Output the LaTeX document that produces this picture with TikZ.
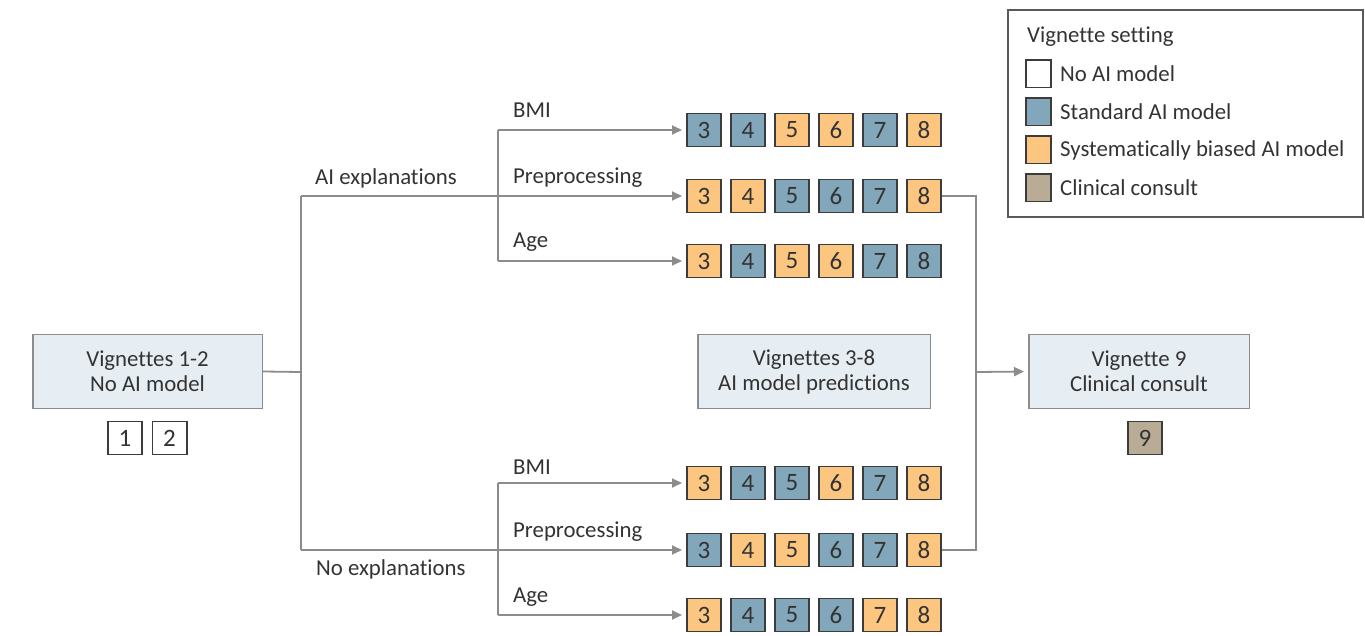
\documentclass[tikz,border=0pt]{standalone}
\usepackage{fontspec}
\setmainfont{Carlito}[Ligatures={NoCommon}]
\usepackage{tikz}
\usetikzlibrary{arrows.meta}
\usepackage{xcolor}
\definecolor{txtgrey}{HTML}{333333}
\definecolor{linegrey}{HTML}{8C8C8C}
\definecolor{boxedge}{HTML}{3C3C3C}
\definecolor{panelfill}{HTML}{E7EEF3}
\definecolor{sb}{HTML}{82A7BA}
\definecolor{so}{HTML}{FDC680}
\definecolor{st}{HTML}{B8AC96}

\begin{document}
\begin{tikzpicture}[x=1pt,y=-1pt,
    every node/.style={text=txtgrey, font=\fontsize{22.8}{25}\selectfont},
    panel/.style={draw=linegrey, line width=1.5pt, fill=panelfill, align=center, minimum height=74pt},
    vbox/.style={draw=boxedge, line width=1.8pt, minimum width=34.2pt, minimum height=33pt, inner sep=0pt, font=\fontsize{25}{25}\selectfont},
    swatch/.style={draw=boxedge, line width=1.8pt, minimum width=25.2pt, minimum height=27.2pt, inner sep=0pt},
    link/.style={draw=linegrey, line width=1.8pt},
    arr/.style={link, -{Triangle[length=10pt,width=9pt]}, shorten >=4pt},
    lbl/.style={anchor=west, inner sep=0pt}]
    \useasboundingbox (0,0) rectangle (1365,636);

    \node[panel, minimum width=229.5pt] (v12) at (147.5,371.5) {Vignettes 1-2\\No AI model};
    \node[panel, minimum width=232.5pt] (v38) at (814,371.5)   {Vignettes 3-8\\AI model predictions};
    \node[panel, minimum width=220.5pt] (v9)  at (1139,371.5)  {Vignette 9\\Clinical consult};

    \node[vbox, fill=white] (s1) at (125,438)  {1};
    \node[vbox, fill=white] (s2) at (169.5,438) {2};
    \node[vbox, fill=st]    (s9) at (1145,438) {9};

    \foreach \row/\y/\c in {a1/130/{sb,sb,so,so,sb,so}, a2/196/{so,so,sb,sb,sb,so}, a3/261/{so,sb,so,so,sb,sb},
                            b1/483/{so,sb,sb,so,sb,so}, b2/550/{sb,so,so,sb,sb,so}, b3/615/{so,sb,sb,sb,so,so}}
      \foreach \col [count=\i from 3] in \c
        \node[vbox, fill=\col] (\row-\i) at ({704+44*(\i-3)},\y) {\i};

    \coordinate (split) at (301,372);
    \coordinate (aibr)  at (301,196);
    \coordinate (nobr)  at (301,550);
    \coordinate (atop)  at (498,130);
    \coordinate (abot)  at (498,261);
    \coordinate (btop)  at (498,483);
    \coordinate (bbot)  at (498,615);
    \coordinate (jtop)  at (976,196);
    \coordinate (jmid)  at (976,372);
    \coordinate (jbot)  at (976,550);

    \draw[link] (v12.east) -- (split);
    \draw[link] (aibr) -- (nobr);
    \draw[arr]  (aibr) -- (a2-3.west);
    \draw[arr]  (nobr) -- (b2-3.west);
    \draw[link] (atop) -- (abot);
    \draw[arr]  (atop) -- (a1-3.west);
    \draw[arr]  (abot) -- (a3-3.west);
    \draw[link] (btop) -- (bbot);
    \draw[arr]  (btop) -- (b1-3.west);
    \draw[arr]  (bbot) -- (b3-3.west);
    \draw[link] (a2-8.east) -- (jtop) -- (jbot) -- (b2-8.east);
    \draw[arr]  (jmid) -- (v9.west);

    \node[lbl] (aiexp) at (315,178) {AI explanations};
    \node[lbl] (noexp) at (316,569) {No explanations};
    \node[lbl] (abmi)  at (513,110) {BMI};
    \node[lbl] (apre)  at (513,178) {Preprocessing};
    \node[lbl] (aage)  at (513,242) {Age};
    \node[lbl] (bbmi)  at (513,467) {BMI};
    \node[lbl] (bpre)  at (513,532) {Preprocessing};
    \node[lbl] (bage)  at (513,597) {Age};

    \draw[draw=boxedge!85, line width=2pt] (1008,10) rectangle (1363,217);
    \node[lbl] (legtitle) at (1027,37) {Vignette setting};
    \foreach \nm/\y/\c/\t in {lnone/74/white/No AI model, lstd/112/sb/Standard AI model,
                              lbias/150/so/Systematically biased AI model, lcons/188/st/Clinical consult} {
      \node[swatch, fill=\c] (\nm) at (1038.5,\y) {};
      \node[lbl] (\nm-t) at (1060,\y) {\t};
    }
  \end{tikzpicture}
\end{document}
